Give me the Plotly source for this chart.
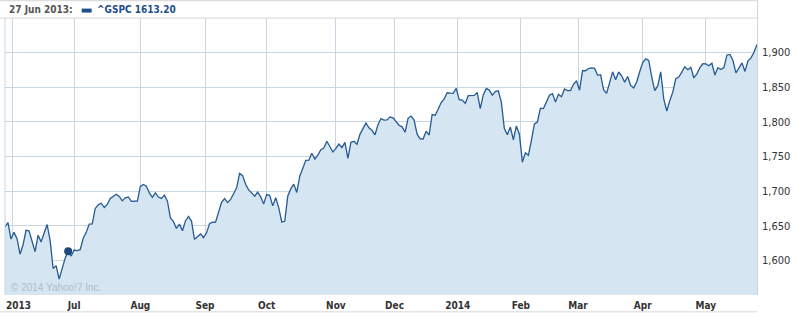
import plotly.graph_objects as go
import pandas as pd

# ---- data: S&P 500 (^GSPC) daily closes, by month ----
close_may13 = [1648.36, 1654.41, 1630.74]
close_jun13 = [1640.42, 1631.38, 1608.90, 1622.56, 1643.38, 1642.81, 1626.13, 1612.52, 1636.36, 1626.73,
               1639.04, 1651.81, 1628.93, 1588.19, 1592.43, 1573.09, 1588.03, 1603.26, 1613.20, 1606.28]
close_jul13 = [1614.96, 1614.08, 1615.41, 1631.89, 1640.46, 1652.32, 1652.62, 1675.02, 1680.19, 1682.50,
               1676.26, 1680.91, 1689.37, 1692.09, 1695.53, 1692.39, 1685.94, 1690.25, 1691.65, 1685.33,
               1685.96, 1685.73]
close_aug13 = [1706.87, 1709.67, 1707.14, 1697.37, 1690.91, 1697.48, 1691.42, 1689.47, 1694.16, 1685.39,
               1661.32, 1655.83, 1646.06, 1652.35, 1642.80, 1656.96, 1663.50, 1656.78, 1630.48, 1634.96,
               1638.17, 1632.97]
close_sep13 = [1639.77, 1653.08, 1655.08, 1655.17, 1671.71, 1683.99, 1689.13, 1683.42, 1687.99, 1697.60,
               1704.76, 1725.52, 1722.34, 1709.91, 1701.84, 1697.42, 1692.77, 1698.67, 1691.75, 1681.55]
close_oct13 = [1695.00, 1693.87, 1678.66, 1690.50, 1676.12, 1655.45, 1656.40, 1692.56, 1703.20, 1710.14,
               1698.06, 1721.54, 1733.15, 1744.50, 1744.66, 1754.67, 1746.38, 1752.07, 1759.77, 1762.11,
               1771.95, 1763.31, 1756.54]
close_nov13 = [1761.64, 1767.93, 1762.97, 1770.49, 1747.15, 1770.61, 1771.89, 1767.69, 1782.00, 1790.62,
               1798.18, 1791.53, 1787.87, 1781.37, 1795.85, 1804.76, 1802.48, 1802.75, 1807.23, 1805.81]
close_dec13 = [1800.90, 1795.15, 1792.81, 1785.03, 1805.09, 1808.37, 1802.62, 1782.22, 1775.50, 1775.32,
               1786.54, 1781.00, 1810.65, 1809.60, 1818.32, 1827.99, 1833.32, 1842.02, 1841.40, 1841.07,
               1848.36]
close_jan14 = [1831.98, 1831.37, 1826.77, 1837.88, 1837.49, 1838.13, 1842.37, 1819.20, 1838.88, 1848.38,
               1845.89, 1838.70, 1843.80, 1844.86, 1828.46, 1790.29, 1781.56, 1792.50, 1774.20, 1794.19,
               1782.59]
close_feb14 = [1741.89, 1755.20, 1751.64, 1773.43, 1797.02, 1799.84, 1819.75, 1819.26, 1829.83, 1838.63,
               1840.76, 1828.75, 1839.78, 1836.25, 1847.61, 1845.12, 1845.16, 1854.29, 1859.45]
close_mar14 = [1845.73, 1873.91, 1873.81, 1877.03, 1878.04, 1877.17, 1867.63, 1868.20, 1846.34, 1841.13,
               1858.83, 1872.25, 1860.77, 1872.01, 1866.52, 1857.44, 1865.62, 1852.56, 1849.04, 1857.62,
               1872.34]
close_apr14 = [1885.52, 1890.90, 1888.77, 1865.09, 1845.04, 1851.96, 1872.18, 1833.08, 1815.69, 1830.61,
               1842.98, 1862.31, 1864.85, 1871.89, 1879.55, 1875.39, 1878.61, 1863.40, 1869.43, 1878.33,
               1883.95]
close_may14 = [1883.68, 1881.14, 1884.66, 1867.72, 1878.21, 1875.63, 1878.48, 1896.65, 1897.45, 1888.53,
               1870.85, 1877.86, 1885.08, 1872.83, 1888.03, 1892.49, 1900.53, 1911.91]

start_date = "2013-05-29"
end_date = "2014-05-27"
market_holidays = ["2013-07-04", "2013-09-02", "2013-11-28", "2013-12-25", "2014-01-01",
                   "2014-01-20", "2014-02-17", "2014-04-18", "2014-05-26"]

month_starts = ["2013-06-01", "2013-07-01", "2013-08-01", "2013-09-01", "2013-10-01", "2013-11-01",
                "2013-12-01", "2014-01-01", "2014-02-01", "2014-03-01", "2014-04-01", "2014-05-01"]
month_labels = ["2013", "Jul", "Aug", "Sep", "Oct", "Nov", "Dec", "2014", "Feb", "Mar", "Apr", "May"]

highlight_date = "2013-06-27"
symbol = "^GSPC"

# ---- build ----
closes = (close_may13 + close_jun13 + close_jul13 + close_aug13 + close_sep13 + close_oct13 +
          close_nov13 + close_dec13 + close_jan14 + close_feb14 + close_mar14 + close_apr14 + close_may14)
dates = [d for d in pd.bdate_range(start_date, end_date) if d.strftime("%Y-%m-%d") not in market_holidays]
assert len(dates) == len(closes)
idx = list(range(len(closes)))
date_pos = {d.strftime("%Y-%m-%d"): i for i, d in enumerate(dates)}

tick_pos = []
for ms in month_starts:
    d = pd.Timestamp(ms)
    first = next(i for i, dd in enumerate(dates) if dd >= d)
    tick_pos.append(first if dates[first] == d else first - 0.5)

hi = date_pos[highlight_date]
hi_date_txt = pd.Timestamp(highlight_date).strftime("%d %b %Y")

LINE = "#255a94"
FILL = "#d5e5f1"
GRID = "#c8d7e3"
FONT = "DejaVu Sans Condensed"

# pixel -> paper helpers (plot area: x 5..760, y 18..298)
def px(x):
    return (x - 5) / 755.0

def py(y):
    return (298 - y) / 280.0

fig = go.Figure()
fig.add_trace(go.Scatter(x=idx, y=closes, mode="lines", fill="tozeroy", fillcolor=FILL,
                         line=dict(color=LINE, width=1.3), hoverinfo="skip", showlegend=False))
fig.add_trace(go.Scatter(x=[hi], y=[closes[hi]], mode="markers",
                         marker=dict(color="#1c497c", size=8), hoverinfo="skip", showlegend=False))

ticktext = [""] + month_labels[1:]

fig.update_layout(
    width=795, height=316,
    margin=dict(l=5, r=35, t=18, b=18),
    paper_bgcolor="white", plot_bgcolor="white",
    xaxis=dict(range=[0, len(closes) - 1], tickvals=tick_pos, ticktext=ticktext,
               showgrid=True, gridcolor=GRID, gridwidth=1, zeroline=False, showline=False,
               ticks="", ticklabelstandoff=3,
               tickfont=dict(family=FONT, size=10, color="#333333", weight="bold"),
               fixedrange=True),
    yaxis=dict(range=[1550, 1950], side="right", tickvals=[1600, 1650, 1700, 1750, 1800, 1850, 1900],
               tickformat=",", showgrid=True, gridcolor=GRID, gridwidth=1, zeroline=False,
               showline=False, ticks="", ticklabelstandoff=4,
               tickfont=dict(family=FONT, size=11, color="#333333"), fixedrange=True),
    shapes=[
        dict(type="line", xref="paper", yref="paper", x0=px(0), x1=px(760), y0=py(0.5), y1=py(0.5),
             line=dict(color="#d4d4d4", width=1)),
        dict(type="line", xref="paper", yref="paper", x0=px(0), x1=px(760), y0=py(18), y1=py(18),
             line=dict(color="#d4d4d4", width=1)),
        dict(type="line", xref="paper", yref="paper", x0=px(760.5), x1=px(760.5), y0=py(0), y1=py(298),
             line=dict(color="#d4d4d4", width=1)),
        dict(type="line", xref="paper", yref="paper", x0=px(5), x1=px(5), y0=py(18), y1=py(298),
             line=dict(color=GRID, width=1)),
        dict(type="line", xref="paper", yref="paper", x0=px(0), x1=px(760), y0=py(315), y1=py(315),
             line=dict(color="#d8d8d8", width=1)),
        dict(type="rect", xref="paper", yref="paper", x0=px(82), x1=px(92), y0=py(12.5), y1=py(8.5),
             fillcolor="#1f4e8c", line=dict(width=0)),
    ],
    annotations=[
        dict(text=hi_date_txt + ":", xref="paper", yref="paper", x=px(7), y=py(9.5),
             xanchor="left", yanchor="middle", showarrow=False,
             font=dict(family=FONT, size=10, color="#555555", weight="bold")),
        dict(text=f"{symbol} {closes[hi]:.2f}", xref="paper", yref="paper", x=px(95), y=py(9.5),
             xanchor="left", yanchor="middle", showarrow=False,
             font=dict(family=FONT, size=10, color="#1f4e8c", weight="bold")),
        dict(text="© 2014 Yahoo!7 Inc.", xref="paper", yref="paper", x=px(9), y=py(290),
             xanchor="left", yanchor="middle", showarrow=False,
             font=dict(family="Liberation Sans", size=10, color="#aebdcc")),
        dict(text=month_labels[0], xref="paper", yref="paper", x=px(19), y=py(308.5),
             xanchor="center", yanchor="middle", showarrow=False,
             font=dict(family=FONT, size=10, color="#333333", weight="bold")),
    ],
)

fig.write_html("out.html")
